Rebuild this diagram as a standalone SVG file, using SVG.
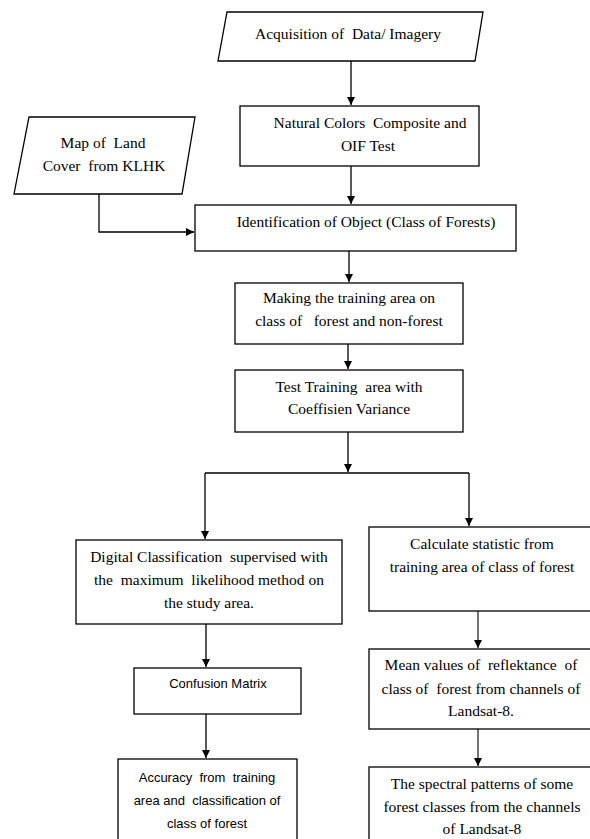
<svg xmlns="http://www.w3.org/2000/svg" width="590" height="839" viewBox="0 0 590 839">
<style>
.box{fill:#fff;stroke:#000;stroke-width:1.3}
text{white-space:pre}
.t{font-family:"Liberation Serif",serif;font-size:15.5px;fill:#000;text-anchor:middle}
.s{font-family:"Liberation Sans",Arial,sans-serif;font-size:13px;fill:#000;text-anchor:middle}
.c{fill:none;stroke:#000;stroke-width:1.3}
.g{fill:none;stroke:#444;stroke-width:1.5}
</style>
<defs>
<marker id="ah" markerWidth="8" markerHeight="8" refX="8" refY="4" orient="auto" markerUnits="userSpaceOnUse">
<path d="M0,0 L8,4 L0,8 Z" fill="#000"/>
</marker>
</defs>
<rect width="590" height="839" fill="#fff"/>
<g id="connectors">
<path class="c" d="M351,61 V105" marker-end="url(#ah)"/>
<path class="c" d="M351,166 V204" marker-end="url(#ah)"/>
<path class="c" d="M99,194 V232 H194" marker-end="url(#ah)"/>
<path class="c" d="M349,251 V282" marker-end="url(#ah)"/>
<path class="c" d="M348,344 V369" marker-end="url(#ah)"/>
<path class="c" d="M348,432 V472" marker-end="url(#ah)"/>
<path class="c" d="M205,473 H469"/>
<path class="c" d="M205,473 V539" marker-end="url(#ah)"/>
<path class="c" d="M469,473 V526" marker-end="url(#ah)"/>
<path class="g" d="M478,611 V648" marker-end="url(#ah)"/>
<path class="g" d="M478,729 V766" marker-end="url(#ah)"/>
<path class="c" d="M206,624 V667" marker-end="url(#ah)"/>
<path class="c" d="M206,714 V758" marker-end="url(#ah)"/>
</g>
<g id="acquisition">
<polygon class="box" points="227,12 483,12 475,61 218,61"/>
<text class="t" x="348" y="39" xml:space="preserve">Acquisition of  Data/ Imagery</text>
</g>
<g id="natural">
<rect class="box" x="240" y="106" width="239" height="60"/>
<text class="t" x="370" y="128" xml:space="preserve">Natural Colors  Composite and</text>
<text class="t" x="368" y="151">OIF Test</text>
</g>
<g id="map">
<polygon class="box" points="29,117 195,117 182,194 14,194"/>
<text class="t" x="103" y="148" xml:space="preserve">Map of  Land</text>
<text class="t" x="104" y="171" xml:space="preserve">Cover  from KLHK</text>
</g>
<g id="identification">
<rect class="box" x="195" y="205" width="321" height="46"/>
<text class="t" x="366" y="227">Identification of Object (Class of Forests)</text>
</g>
<g id="making">
<rect class="box" x="235" y="283" width="228" height="61"/>
<text class="t" x="349" y="303">Making the training area on</text>
<text class="t" x="349" y="326" xml:space="preserve">class of   forest and non-forest</text>
</g>
<g id="test">
<rect class="box" x="235" y="370" width="228" height="62"/>
<text class="t" x="349" y="392" xml:space="preserve">Test Training  area with</text>
<text class="t" x="349" y="414">Coeffisien Variance</text>
</g>
<g id="digital">
<rect class="box" x="76" y="540" width="266" height="84"/>
<text class="t" x="209" y="562" xml:space="preserve">Digital Classification  supervised with</text>
<text class="t" x="209" y="585" xml:space="preserve">the  maximum  likelihood method on</text>
<text class="t" x="209" y="608">the study area.</text>
</g>
<g id="calculate">
<rect class="box" x="369" y="527" width="240" height="84"/>
<text class="t" x="482" y="549">Calculate statistic from</text>
<text class="t" x="482" y="572">training area of class of forest</text>
</g>
<g id="confusion">
<rect class="box" x="134" y="668" width="167" height="46"/>
<text class="s" x="218" y="688">Confusion Matrix</text>
</g>
<g id="mean">
<rect class="box" x="369" y="649" width="240" height="80"/>
<text class="t" x="481" y="670" xml:space="preserve">Mean values of  reflektance  of</text>
<text class="t" x="481" y="694" xml:space="preserve">class of  forest from channels of</text>
<text class="t" x="481" y="716">Landsat-8.</text>
</g>
<g id="accuracy">
<rect class="box" x="118" y="759" width="179" height="100"/>
<text class="s" x="207" y="782" xml:space="preserve">Accuracy  from  training</text>
<text class="s" x="207" y="805" xml:space="preserve">area and  classification of</text>
<text class="s" x="207" y="828">class of forest</text>
</g>
<g id="spectral">
<rect class="box" x="369" y="767" width="240" height="100"/>
<text class="t" x="482" y="789">The spectral patterns of some</text>
<text class="t" x="482" y="812">forest classes from the channels</text>
<text class="t" x="482" y="834">of Landsat-8</text>
</g>
</svg>
